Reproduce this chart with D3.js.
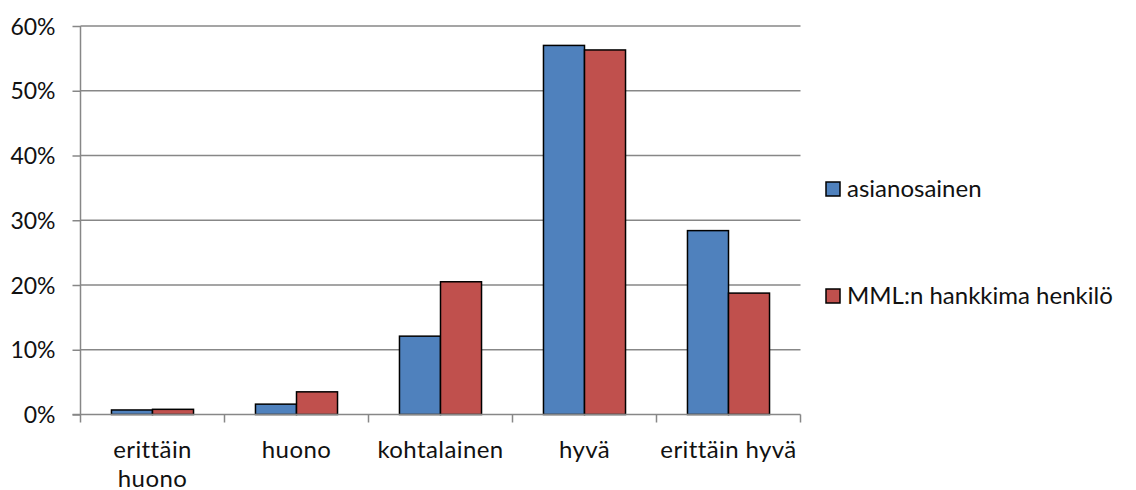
<!DOCTYPE html>
<html>
<head>
<meta charset="utf-8">
<script src="https://cdn.jsdelivr.net/npm/d3@7"></script>
<style>
  html, body { margin: 0; padding: 0; background: #fff; }
  svg { display: block; font-family: Lato, "Open Sans", sans-serif; }
</style>
</head>
<body>
<svg id="chart" width="1136" height="490"></svg>
<script>
// Survey answers by respondent group (percent)
const categories = ["erittäin huono", "huono", "kohtalainen", "hyvä", "erittäin hyvä"];
const categoryLines = [["erittäin", "huono"], ["huono"], ["kohtalainen"], ["hyvä"], ["erittäin hyvä"]];
const seriesNames = ["asianosainen", "MML:n hankkima henkilö"];
const asianosainen = [0.7, 1.6, 12.1, 57.0, 28.4];
const mmlHenkilo = [0.8, 3.5, 20.5, 56.3, 18.75];
const yTicks = [0, 10, 20, 30, 40, 50, 60];
const colors = ["#4f81bd", "#c0504d"];

const seriesValues = [asianosainen, mmlHenkilo];

const svg = d3.select("#chart");
const plot = { left: 80.5, right: 800.5, top: 26, bottom: 414.5 };

const x = d3.scaleBand().domain(categories).range([plot.left, plot.right]).paddingInner(0).paddingOuter(0);
const xInner = d3.scaleBand().domain(seriesNames).range([0, x.bandwidth()]).paddingInner(0).paddingOuter(0.755);
const y = d3.scaleLinear().domain([0, 60]).range([plot.bottom, plot.top]);

const gridColor = "#878787";
const textColor = "#111";

// value axis: short ticks left of the axis and percent labels
const yAxis = d3.axisLeft(y).tickValues(yTicks).tickSize(8).tickFormat(d => d + "%");
const gy = svg.append("g").attr("transform", `translate(${plot.left},0)`).call(yAxis);
gy.select(".domain").remove();
gy.selectAll(".tick line").attr("stroke", gridColor).attr("stroke-width", 1.5);
gy.selectAll(".tick text").attr("x", -25).attr("fill", textColor).attr("font-size", 23).attr("dy", "0.35em")
  .attr("font-family", "Lato, sans-serif");

// horizontal gridlines
svg.append("g").selectAll("line").data(yTicks.filter(t => t > 0)).join("line")
  .attr("x1", plot.left).attr("x2", plot.right)
  .attr("y1", d => y(d)).attr("y2", d => y(d))
  .attr("stroke", gridColor).attr("stroke-width", 1.5);

// vertical axis line
svg.append("line").attr("x1", plot.left).attr("x2", plot.left).attr("y1", plot.top).attr("y2", plot.bottom)
  .attr("stroke", gridColor).attr("stroke-width", 1.5);

// bars
const groups = svg.append("g").selectAll("g").data(categories).join("g")
  .attr("transform", d => `translate(${x(d)},0)`);
groups.selectAll("rect")
  .data((d, i) => seriesNames.map((s, j) => ({ s, j, v: seriesValues[j][i] })))
  .join("rect")
  .attr("x", d => xInner(d.s))
  .attr("width", xInner.bandwidth())
  .attr("y", d => y(d.v))
  .attr("height", d => y(0) - y(d.v))
  .attr("fill", d => colors[d.j])
  .attr("stroke", "#000")
  .attr("stroke-width", 1.5);

// category axis with boundary ticks
const boundaries = categories.map(c => x(c)).concat([plot.right]);
svg.append("line").attr("x1", plot.left - 8).attr("x2", plot.right).attr("y1", plot.bottom).attr("y2", plot.bottom)
  .attr("stroke", gridColor).attr("stroke-width", 1.5);
svg.append("g").selectAll("line").data(boundaries).join("line")
  .attr("x1", d => d).attr("x2", d => d).attr("y1", plot.bottom).attr("y2", plot.bottom + 8)
  .attr("stroke", gridColor).attr("stroke-width", 1.5);

const labels = svg.append("g").selectAll("text").data(categories).join("text")
  .attr("text-anchor", "middle")
  .attr("font-size", 24)
  .attr("letter-spacing", 0.4)
  .attr("fill", textColor)
  .attr("transform", d => `translate(${x(d) + x.bandwidth() / 2},457.5)`);
labels.selectAll("tspan").data((d, i) => categoryLines[i]).join("tspan")
  .attr("x", 0).attr("dy", (d, i) => i === 0 ? 0 : 29.5).text(d => d);

// legend
const legendY = [189, 296];
const legend = svg.append("g").selectAll("g").data(seriesNames).join("g")
  .attr("transform", (d, i) => `translate(826,${legendY[i]})`);
legend.append("rect").attr("x", 0).attr("y", -7).attr("width", 14).attr("height", 14)
  .attr("fill", (d, i) => colors[i]).attr("stroke", "#000").attr("stroke-width", 1.5);
legend.append("text").attr("x", 21).attr("dy", "0.35em").attr("font-size", 24).attr("fill", textColor)
  .text(d => d);
</script>
</body>
</html>
